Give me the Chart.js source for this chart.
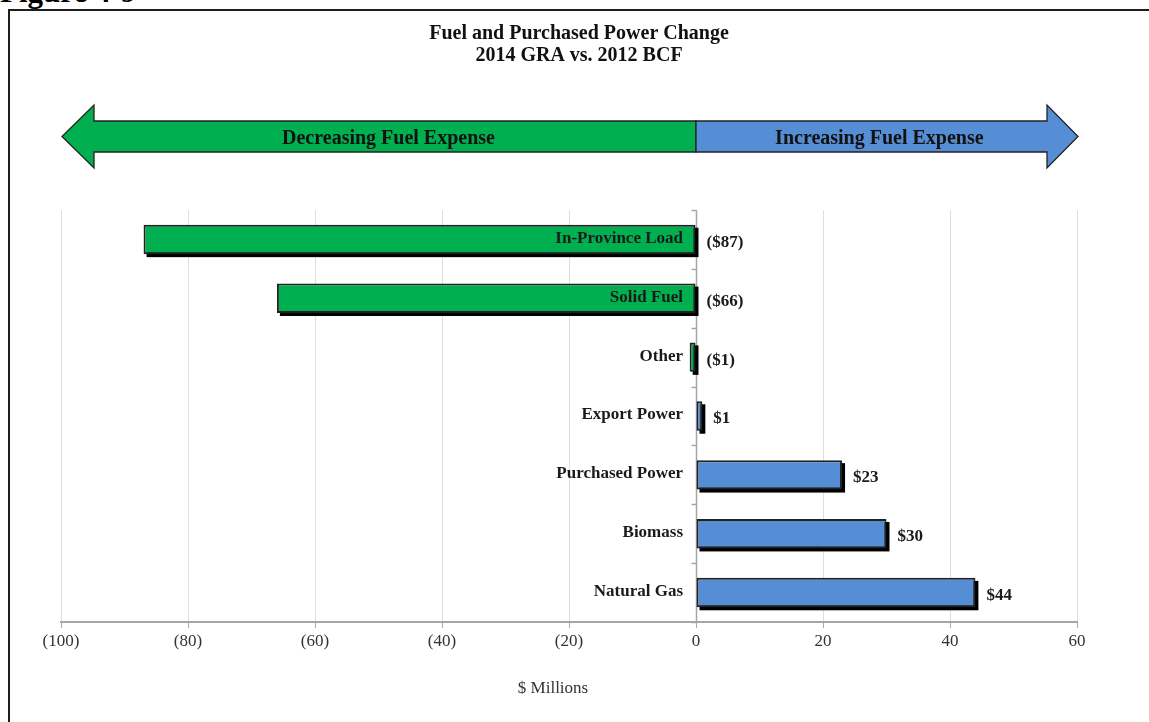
<!DOCTYPE html>
<html>
<head>
<meta charset="utf-8">
<title>Fuel and Purchased Power Change</title>
<script src="https://cdn.jsdelivr.net/npm/chart.js@4.4.1/dist/chart.umd.min.js"></script>
<style>
  html, body { margin: 0; padding: 0; background: #fff; overflow: hidden; }
  #wrap { position: relative; width: 1149px; height: 722px; overflow: hidden; }
  #fig { position: absolute; left: 0; top: -24px; font: bold 31px "Liberation Serif", serif; line-height: 31px; color: #000; white-space: nowrap; }
  #frame { position: absolute; left: 8px; top: 9px; width: 1300px; height: 900px; border: 2px solid #1e1e1e; box-sizing: border-box; background: #fff; }
  canvas { position: absolute; left: 0; top: 0; }
</style>
</head>
<body>
<div id="wrap">
  <div id="fig">Figure 4-9</div>
  <div id="frame"></div>
  <canvas id="c" width="1149" height="722"></canvas>
</div>
<script>
// Change in fuel and purchased power cost, $ millions
const categories = ['In-Province Load', 'Solid Fuel', 'Other', 'Export Power', 'Purchased Power', 'Biomass', 'Natural Gas'];
const changes = [-87, -66, -1, 1, 23, 30, 44];
const xTicks = [-100, -80, -60, -40, -20, 0, 20, 40, 60];
const titleLines = ['Fuel and Purchased Power Change', '2014 GRA vs. 2012 BCF'];
const arrowLabels = ['Decreasing Fuel Expense', 'Increasing Fuel Expense'];
const axisTitle = '$ Millions';

const SERIF = '"Liberation Serif", "Times New Roman", serif';
const GREEN = '#00B050';
const BLUE = '#558ED5';
const OUTLINE = '#222';

const money = v => (v < 0 ? '($' + (-v) + ')' : '$' + v);
const paren = v => (v < 0 ? '(' + (-v) + ')' : String(v));

function arrow(ctx, fromX, tipX, midY, shaftHalf, headHalf, headLen, fill) {
  const dir = Math.sign(tipX - fromX);
  const baseX = tipX - dir * headLen;
  ctx.beginPath();
  ctx.moveTo(fromX, midY - shaftHalf);
  ctx.lineTo(baseX, midY - shaftHalf);
  ctx.lineTo(baseX, midY - headHalf);
  ctx.lineTo(tipX, midY);
  ctx.lineTo(baseX, midY + headHalf);
  ctx.lineTo(baseX, midY + shaftHalf);
  ctx.lineTo(fromX, midY + shaftHalf);
  ctx.closePath();
  ctx.fillStyle = fill;
  ctx.fill();
  ctx.strokeStyle = OUTLINE;
  ctx.lineWidth = 1.3;
  ctx.stroke();
}

const decor = {
  id: 'decor',
  beforeDatasetsDraw(chart) {
    const { ctx, chartArea } = chart;
    const xs = chart.scales.x, ys = chart.scales.y;
    const zx = Math.round(xs.getPixelForValue(0)) + 0.5;
    ctx.save();
    // category axis at zero with small ticks between categories
    ctx.strokeStyle = '#a6a6a6';
    ctx.lineWidth = 1.5;
    ctx.beginPath();
    ctx.moveTo(zx, chartArea.top);
    ctx.lineTo(zx, chartArea.bottom);
    for (let i = 0; i <= categories.length; i++) {
      const py = Math.round(ys.getPixelForValue(i - 0.5)) + 0.5;
      ctx.moveTo(zx - 5, py);
      ctx.lineTo(zx, py);
    }
    ctx.stroke();
    // drop shadows behind the bars
    ctx.fillStyle = '#000';
    chart.getDatasetMeta(0).data.forEach(b => {
      const left = Math.min(b.x, b.base);
      const w = Math.abs(b.x - b.base);
      ctx.fillRect(left + 3, b.y - b.height / 2 + 3, w, b.height);
    });
    ctx.restore();
  },
  afterDatasetsDraw(chart) {
    const { ctx } = chart;
    const xs = chart.scales.x;
    const zx = xs.getPixelForValue(0);
    ctx.save();
    ctx.font = 'bold 17px ' + SERIF;
    ctx.fillStyle = '#1a1a1a';
    ctx.textBaseline = 'middle';
    chart.getDatasetMeta(0).data.forEach((b, i) => {
      ctx.textAlign = 'right';
      ctx.fillText(categories[i], zx - 13, b.y - 1);
      ctx.textAlign = 'left';
      ctx.fillText(money(changes[i]), Math.max(b.x, b.base) + 11, b.y + 3);
    });
    ctx.restore();
  },
  afterDraw(chart) {
    const { ctx } = chart;
    const xs = chart.scales.x;
    const zx = xs.getPixelForValue(0);
    const leftTip = xs.getPixelForValue(xTicks[0]) + 1;
    const rightTip = xs.getPixelForValue(xTicks[xTicks.length - 1]) + 1;
    ctx.save();
    arrow(ctx, zx, leftTip, 136.5, 15.5, 31.5, 32, GREEN);
    arrow(ctx, zx, rightTip, 136.5, 15.5, 31.5, 31, BLUE);
    ctx.fillStyle = '#111';
    ctx.textAlign = 'center';
    ctx.textBaseline = 'middle';
    ctx.font = 'bold 20px ' + SERIF;
    ctx.fillText(arrowLabels[0], leftTip + (zx - leftTip) * 0.515, 139);
    ctx.fillText(arrowLabels[1], zx + (rightTip - zx) * 0.48, 139);
    ctx.font = 'bold 20px ' + SERIF;
    ctx.fillText(titleLines[0], 579, 34);
    ctx.fillText(titleLines[1], 579, 56);
    ctx.font = '17px ' + SERIF;
    ctx.fillStyle = '#333';
    ctx.fillText(axisTitle, 553, 689);
    ctx.restore();
  }
};

new Chart(document.getElementById('c'), {
  type: 'bar',
  data: {
    labels: categories,
    datasets: [{
      data: changes,
      backgroundColor: changes.map(v => (v < 0 ? GREEN : BLUE)),
      borderColor: OUTLINE,
      borderWidth: 2,
      borderSkipped: false,
      categoryPercentage: 1,
      barPercentage: 0.5
    }]
  },
  options: {
    indexAxis: 'y',
    responsive: false,
    animation: false,
    devicePixelRatio: 1,
    layout: { padding: { left: 61, right: 72, top: 210, bottom: 0 } },
    plugins: { legend: { display: false }, tooltip: { enabled: false }, title: { display: false } },
    scales: {
      x: {
        min: xTicks[0],
        max: xTicks[xTicks.length - 1],
        afterBuildTicks(scale) { scale.ticks = xTicks.map(v => ({ value: v })); },
        afterFit(scale) { scale.height = 100; },
        ticks: {
          font: { family: SERIF, size: 17 },
          color: '#333',
          padding: 3,
          maxRotation: 0,
          autoSkip: false,
          callback: v => paren(v)
        },
        grid: { color: '#dedede', lineWidth: 1, tickLength: 6, tickColor: '#a6a6a6' },
        border: { color: '#a6a6a6', width: 2 }
      },
      y: { display: false }
    }
  },
  plugins: [decor]
});
</script>
</body>
</html>
